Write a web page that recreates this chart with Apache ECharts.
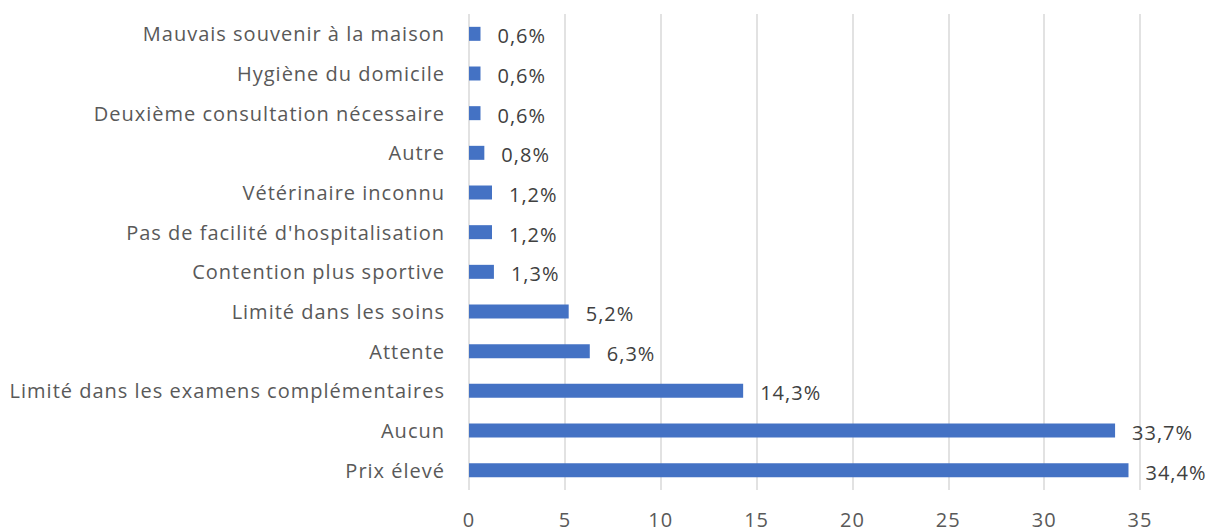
<!DOCTYPE html>
<html>
<head>
<meta charset="utf-8">
<script src="https://cdn.jsdelivr.net/npm/echarts@6/dist/echarts.min.js"></script>
<style>
  html, body { margin: 0; padding: 0; background: #ffffff; }
  #chart { width: 1210px; height: 532px; }
  /* slightly open tracking for all chart text */
  #chart svg text { letter-spacing: 1px; }
</style>
</head>
<body>
<div id="chart"></div>
<script>
// Reasons given (bottom to top), share of responses in %
const categories = [
  "Prix élevé",
  "Aucun",
  "Limité dans les examens complémentaires",
  "Attente",
  "Limité dans les soins",
  "Contention plus sportive",
  "Pas de facilité d'hospitalisation",
  "Vétérinaire inconnu",
  "Autre",
  "Deuxième consultation nécessaire",
  "Hygiène du domicile",
  "Mauvais souvenir à la maison"
];
const values = [34.4, 33.7, 14.3, 6.3, 5.2, 1.3, 1.2, 1.2, 0.8, 0.6, 0.6, 0.6];
const xTicks = [0, 5, 10, 15, 20, 25, 30, 35];

const FONT = "Open Sans";
const chart = echarts.init(document.getElementById("chart"), null, { renderer: "svg" });

chart.setOption({
  animation: false,
  grid: { left: 469, right: 70, top: 14, bottom: 42, containLabel: false },
  xAxis: {
    type: "value",
    min: xTicks[0],
    max: xTicks[xTicks.length - 1],
    interval: 5,
    axisLine: { show: false },
    axisTick: { show: false },
    splitLine: { show: true, lineStyle: { color: "#d9d9d9", width: 1.5 } },
    axisLabel: {
      color: "#595959",
      fontFamily: FONT,
      fontSize: 20,
      lineHeight: 16,
      margin: 21,
      formatter: v => String(v)
    }
  },
  yAxis: {
    type: "category",
    data: categories,
    axisLine: { show: false },
    axisTick: { show: false },
    axisLabel: {
      color: "#595959",
      fontFamily: FONT,
      fontSize: 20,
      margin: 24,
      lineHeight: 20,
      padding: [2, 0, 0, 0]
    }
  },
  series: [{
    type: "bar",
    data: values,
    barWidth: 14,
    itemStyle: { color: "#4472c4" },
    label: {
      show: true,
      position: "right",
      distance: 17,
      color: "#404040",
      fontFamily: FONT,
      fontSize: 20,
      offset: [0, 2],
      formatter: p => p.value.toFixed(1).replace(".", ",") + "%"
    }
  }]
});
</script>
</body>
</html>
